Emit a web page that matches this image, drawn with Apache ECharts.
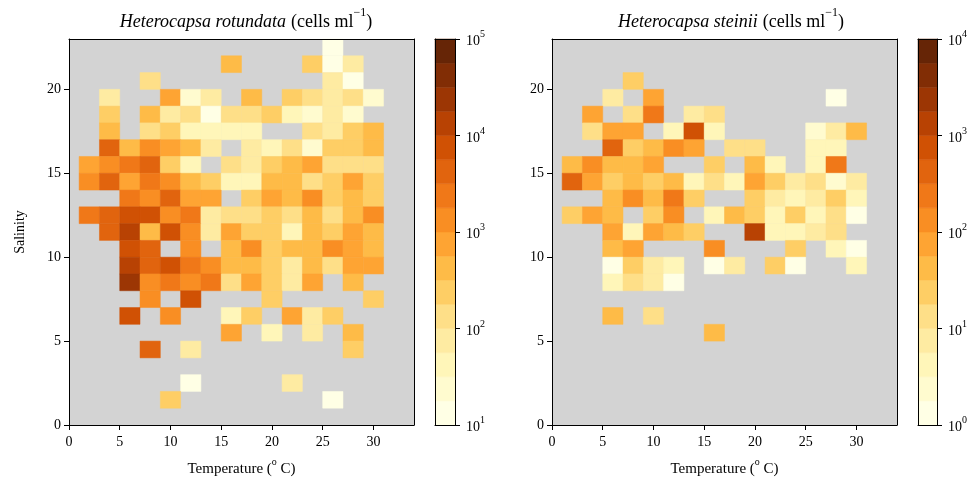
<!DOCTYPE html>
<html>
<head>
<meta charset="utf-8">
<script src="https://cdn.jsdelivr.net/npm/echarts@6/dist/echarts.min.js"></script>
<style>
html, body { margin: 0; padding: 0; background: #fff; }
#chart { width: 976px; height: 478px; }
</style>
</head>
<body>
<div id="chart"></div>
<script>
// bins: temperature 2 deg wide, salinity 1 unit tall (values are bin centres)
var tempBin = 2;
var salBin = 1;
var xTicks = [0, 5, 10, 15, 20, 25, 30];
var yTicks = [0, 5, 10, 15, 20];
var rotExp = [1, 2, 3, 4, 5];   // colour bar decades, H. rotundata
var steExp = [0, 1, 2, 3, 4];   // colour bar decades, H. steinii

// [temperature, salinity, cells ml-1]
var rotundata = [
  [26,22.5,13],
  [16,21.5,420],[24,21.5,240],[26,21.5,13],[28,21.5,75],
  [8,20.5,130],[26,20.5,75],[28,20.5,13],
  [4,19.5,75],[10,19.5,750],[12,19.5,24],[14,19.5,75],[18,19.5,420],[22,19.5,240],[24,19.5,130],[26,19.5,75],[28,19.5,130],[30,19.5,24],
  [4,18.5,240],[8,18.5,420],[10,18.5,75],[12,18.5,130],[14,18.5,13],[16,18.5,130],[18,18.5,130],[20,18.5,240],[22,18.5,42],[24,18.5,24],[26,18.5,75],[28,18.5,24],
  [4,17.5,420],[8,17.5,130],[10,17.5,240],[12,17.5,42],[14,17.5,42],[16,17.5,42],[18,17.5,42],[24,17.5,130],[26,17.5,75],[28,17.5,240],[30,17.5,420],
  [4,16.5,4200],[6,16.5,420],[8,16.5,1300],[10,16.5,750],[12,16.5,420],[14,16.5,75],[18,16.5,75],[20,16.5,42],[22,16.5,130],[24,16.5,24],[26,16.5,240],[28,16.5,240],[30,16.5,420],
  [2,15.5,750],[4,15.5,1300],[6,15.5,2400],[8,15.5,4200],[10,15.5,240],[12,15.5,42],[16,15.5,130],[18,15.5,75],[20,15.5,240],[22,15.5,420],[24,15.5,750],[26,15.5,130],[28,15.5,130],[30,15.5,130],
  [2,14.5,1300],[4,14.5,4200],[6,14.5,750],[8,14.5,2400],[10,14.5,1300],[12,14.5,420],[14,14.5,240],[16,14.5,42],[18,14.5,42],[20,14.5,420],[22,14.5,420],[24,14.5,130],[26,14.5,240],[28,14.5,750],[30,14.5,240],
  [6,13.5,2400],[8,13.5,1300],[10,13.5,4200],[12,13.5,750],[14,13.5,750],[18,13.5,240],[20,13.5,750],[22,13.5,420],[24,13.5,1300],[26,13.5,240],[28,13.5,420],[30,13.5,240],
  [2,12.5,2400],[4,12.5,4200],[6,12.5,7500],[8,12.5,7500],[10,12.5,1300],[12,12.5,2400],[14,12.5,75],[16,12.5,130],[18,12.5,130],[20,12.5,240],[22,12.5,130],[24,12.5,420],[26,12.5,130],[28,12.5,420],[30,12.5,1300],
  [4,11.5,4200],[6,11.5,13000],[8,11.5,420],[10,11.5,7500],[12,11.5,1300],[14,11.5,75],[16,11.5,750],[18,11.5,240],[20,11.5,240],[22,11.5,42],[24,11.5,420],[26,11.5,240],[28,11.5,750],[30,11.5,420],
  [6,10.5,7500],[8,10.5,4200],[12,10.5,1300],[16,10.5,420],[18,10.5,1300],[20,10.5,240],[22,10.5,420],[24,10.5,420],[26,10.5,1300],[28,10.5,750],[30,10.5,420],
  [6,9.5,13000],[8,9.5,4200],[10,9.5,7500],[12,9.5,2400],[14,9.5,1300],[16,9.5,420],[18,9.5,420],[20,9.5,240],[22,9.5,75],[24,9.5,420],[26,9.5,130],[28,9.5,750],[30,9.5,750],
  [6,8.5,24000],[8,8.5,1300],[10,8.5,2400],[12,8.5,1300],[14,8.5,2400],[16,8.5,130],[18,8.5,750],[20,8.5,240],[22,8.5,75],[24,8.5,750],[28,8.5,420],
  [8,7.5,1300],[12,7.5,7500],[20,7.5,240],[30,7.5,240],
  [6,6.5,7500],[10,6.5,1300],[16,6.5,42],[18,6.5,240],[22,6.5,750],[24,6.5,75],[26,6.5,240],
  [16,5.5,750],[20,5.5,42],[24,5.5,75],[28,5.5,420],
  [8,4.5,4200],[12,4.5,75],[28,4.5,240],
  [12,2.5,13],[22,2.5,75],
  [10,1.5,240],[26,1.5,13]
];

var steinii = [
  [8,20.5,24],
  [6,19.5,7.5],[10,19.5,75],[28,19.5,1.3],
  [4,18.5,75],[8,18.5,13],[10,18.5,240],[14,18.5,7.5],[16,18.5,13],
  [4,17.5,13],[6,17.5,75],[8,17.5,75],[12,17.5,4.2],[14,17.5,750],[16,17.5,4.2],[26,17.5,2.4],[28,17.5,7.5],[30,17.5,42],
  [6,16.5,420],[8,16.5,24],[10,16.5,42],[12,16.5,130],[14,16.5,75],[18,16.5,13],[20,16.5,13],[26,16.5,4.2],[28,16.5,4.2],
  [2,15.5,42],[4,15.5,130],[6,15.5,42],[8,15.5,42],[10,15.5,75],[16,15.5,24],[20,15.5,42],[22,15.5,4.2],[26,15.5,4.2],[28,15.5,240],
  [2,14.5,420],[4,14.5,75],[6,14.5,24],[8,14.5,42],[10,14.5,24],[12,14.5,42],[14,14.5,4.2],[16,14.5,13],[18,14.5,4.2],[20,14.5,75],[22,14.5,24],[24,14.5,7.5],[26,14.5,13],[28,14.5,2.4],[30,14.5,7.5],
  [6,13.5,42],[8,13.5,130],[10,13.5,42],[12,13.5,240],[14,13.5,24],[20,13.5,24],[22,13.5,7.5],[24,13.5,4.2],[26,13.5,7.5],[28,13.5,24],[30,13.5,4.2],
  [2,12.5,24],[4,12.5,75],[6,12.5,42],[10,12.5,24],[12,12.5,130],[16,12.5,4.2],[18,12.5,42],[20,12.5,24],[22,12.5,4.2],[24,12.5,24],[26,12.5,4.2],[28,12.5,13],[30,12.5,1.3],
  [6,11.5,75],[8,11.5,4.2],[10,11.5,75],[12,11.5,42],[14,11.5,24],[20,11.5,1300],[22,11.5,4.2],[24,11.5,4.2],[26,11.5,7.5],[28,11.5,13],
  [6,10.5,42],[8,10.5,75],[16,10.5,130],[24,10.5,24],[28,10.5,4.2],[30,10.5,1.3],
  [6,9.5,1.3],[8,9.5,24],[10,9.5,7.5],[12,9.5,4.2],[16,9.5,1.3],[18,9.5,7.5],[22,9.5,24],[24,9.5,1.3],[30,9.5,4.2],
  [6,8.5,4.2],[8,8.5,13],[10,8.5,7.5],[12,8.5,1.3],
  [6,6.5,42],[10,6.5,13],
  [16,5.5,42]
];

// YlOrBr anchors, sampled into 16 discrete levels (4 per decade)
var ylorbr = [[255,255,229],[255,247,188],[254,227,145],[254,196,79],[254,153,41],[236,112,20],[204,76,2],[153,52,4],[102,37,6]];
var nLevels = 16;
var palette = [];
for (var i = 0; i < nLevels; i++) {
  var p = i / (nLevels - 1) * 8, k = Math.min(Math.floor(p), 7), f = p - k;
  var c = ylorbr[k].map(function (a, n) { return Math.round(a + (ylorbr[k + 1][n] - a) * f); });
  palette.push('rgb(' + c.join(',') + ')');
}

function colorFor(v, lo, hi) {
  var t = (Math.log10(v) - lo) / (hi - lo);
  var idx = Math.floor(t * nLevels);
  return palette[Math.max(0, Math.min(nLevels - 1, idx))];
}

var font = 'Liberation Serif';
var supRich = {
  b: { fontFamily: font, fontSize: 14, color: '#000', lineHeight: 19, verticalAlign: 'bottom' },
  s: { fontFamily: font, fontSize: 10, color: '#000', lineHeight: 19, verticalAlign: 'top' }
};

function cellRender(lo, hi) {
  return function (params, api) {
    var x = api.value(0), y = api.value(1);
    var a = api.coord([x - tempBin / 2, y + salBin / 2]);
    var b = api.coord([x + tempBin / 2, y - salBin / 2]);
    var col = colorFor(api.value(2), lo, hi);
    return { type: 'rect', shape: { x: a[0], y: a[1], width: b[0] - a[0], height: b[1] - a[1] },
      style: { fill: col, stroke: col, lineWidth: 0.5 } };
  };
}

function barRender(params, api) {
  var a = api.coord([0, api.value(1)]);
  var b = api.coord([1, api.value(0)]);
  return { type: 'rect', shape: { x: a[0], y: a[1], width: b[0] - a[0], height: b[1] - a[1] },
    style: { fill: palette[params.dataIndex], stroke: palette[params.dataIndex], lineWidth: 0.5 } };
}

function levelBounds(exps) {
  var lo = exps[0], hi = exps[exps.length - 1], out = [];
  for (var i = 0; i < nLevels; i++) {
    out.push([Math.pow(10, lo + (hi - lo) * i / nLevels), Math.pow(10, lo + (hi - lo) * (i + 1) / nLevels)]);
  }
  return out;
}

var lineStyle = { color: '#000', width: 1 };
var grids = [
  { left: 69, top: 39, width: 345, height: 386 },
  { left: 435, top: 39, width: 20, height: 386 },
  { left: 552, top: 39, width: 345, height: 386 },
  { left: 918, top: 39, width: 19, height: 386 }
];
grids.forEach(function (g, i) {
  g.show = (i % 2 === 0);
  g.backgroundColor = '#d3d3d3';
  g.borderWidth = 0;
  g.containLabel = false;
  g.outerBoundsMode = 'none';
});

var xAxes = [], yAxes = [];
function frameAxis(list, gi, pos, type, extra) {
  var ax = { gridIndex: gi, position: pos, type: type, z: 10,
    axisLine: { show: true, onZero: false, lineStyle: lineStyle },
    axisTick: { show: false }, axisLabel: { show: false }, splitLine: { show: false } };
  for (var key in extra) ax[key] = extra[key];
  list.push(ax);
  return list.length - 1;
}

// heat map panels (grid 0 and 2) and their colour bars (grid 1 and 3)
var heatAxis = {}, barAxis = {};
[0, 2].forEach(function (gi) {
  var xi = frameAxis(xAxes, gi, 'bottom', 'value', {
    min: 0, max: 34, interval: 5,
    axisTick: { show: true, length: 5, lineStyle: lineStyle, customValues: xTicks },
    axisLabel: { show: true, customValues: xTicks, fontFamily: font, fontSize: 14, color: '#000', margin: 10 },
    name: '{b|Temperature (}{s|o}{b| C)}', nameLocation: 'middle', nameGap: 32,
    nameTextStyle: { fontFamily: font, fontSize: 15, color: '#000',
      rich: { b: { fontFamily: font, fontSize: 15, color: '#000', lineHeight: 20, verticalAlign: 'bottom' },
              s: { fontFamily: font, fontSize: 10, color: '#000', lineHeight: 20, verticalAlign: 'top' } } }
  });
  frameAxis(xAxes, gi, 'top', 'value', { min: 0, max: 34 });
  var yi = frameAxis(yAxes, gi, 'left', 'value', {
    min: 0, max: 23, interval: 5,
    axisTick: { show: true, length: 5, lineStyle: lineStyle, customValues: yTicks },
    axisLabel: { show: true, customValues: yTicks, fontFamily: font, fontSize: 14, color: '#000', margin: 8 },
    name: gi === 0 ? 'Salinity' : '', nameLocation: 'middle', nameGap: 42, nameRotate: 90,
    nameTextStyle: { fontFamily: font, fontSize: 14, color: '#000' }
  });
  frameAxis(yAxes, gi, 'right', 'value', { min: 0, max: 23 });
  heatAxis[gi] = [xi, yi];
});

[[1, rotExp], [3, steExp]].forEach(function (pair) {
  var gi = pair[0], exps = pair[1];
  var lo = Math.pow(10, exps[0]), hi = Math.pow(10, exps[exps.length - 1]);
  var xi = frameAxis(xAxes, gi, 'bottom', 'value', { min: 0, max: 1 });
  frameAxis(xAxes, gi, 'top', 'value', { min: 0, max: 1 });
  frameAxis(yAxes, gi, 'left', 'log', { min: lo, max: hi, logBase: 10 });
  var yi = frameAxis(yAxes, gi, 'right', 'log', {
    min: lo, max: hi, logBase: 10, interval: 1,
    axisTick: { show: true, length: 5, lineStyle: lineStyle },
    axisLabel: { show: true, margin: 11, rich: supRich,
      formatter: function (v) { return '{b|10}{s|' + Math.round(Math.log10(v)) + '}'; } }
  });
  barAxis[gi] = [xi, yi];
});

var series = [
  { type: 'custom', xAxisIndex: heatAxis[0][0], yAxisIndex: heatAxis[0][1], renderItem: cellRender(rotExp[0], rotExp[rotExp.length - 1]), data: rotundata, silent: true },
  { type: 'custom', xAxisIndex: barAxis[1][0], yAxisIndex: barAxis[1][1], renderItem: barRender, data: levelBounds(rotExp), silent: true },
  { type: 'custom', xAxisIndex: heatAxis[2][0], yAxisIndex: heatAxis[2][1], renderItem: cellRender(steExp[0], steExp[steExp.length - 1]), data: steinii, silent: true },
  { type: 'custom', xAxisIndex: barAxis[3][0], yAxisIndex: barAxis[3][1], renderItem: barRender, data: levelBounds(steExp), silent: true }
];

var titleRich = {
  i: { fontFamily: font, fontStyle: 'italic', fontWeight: 'normal', fontSize: 18, color: '#000', lineHeight: 24, verticalAlign: 'bottom' },
  n: { fontFamily: font, fontWeight: 'normal', fontSize: 18, color: '#000', lineHeight: 24, verticalAlign: 'bottom' },
  s: { fontFamily: font, fontWeight: 'normal', fontSize: 12, color: '#000', lineHeight: 24, verticalAlign: 'top' }
};

var chart = echarts.init(document.getElementById('chart'), null, { renderer: 'canvas' });
chart.setOption({
  animation: false,
  backgroundColor: '#fff',
  title: [
    { text: '{i|Heterocapsa rotundata} {n|(cells ml}{s|\u22121}{n|)}', left: 241, top: 2, textAlign: 'center', textStyle: { fontWeight: 'normal', rich: titleRich } },
    { text: '{i|Heterocapsa steinii} {n|(cells ml}{s|\u22121}{n|)}', left: 726, top: 2, textAlign: 'center', textStyle: { fontWeight: 'normal', rich: titleRich } }
  ],
  grid: grids,
  xAxis: xAxes,
  yAxis: yAxes,
  series: series
});
</script>
</body>
</html>
